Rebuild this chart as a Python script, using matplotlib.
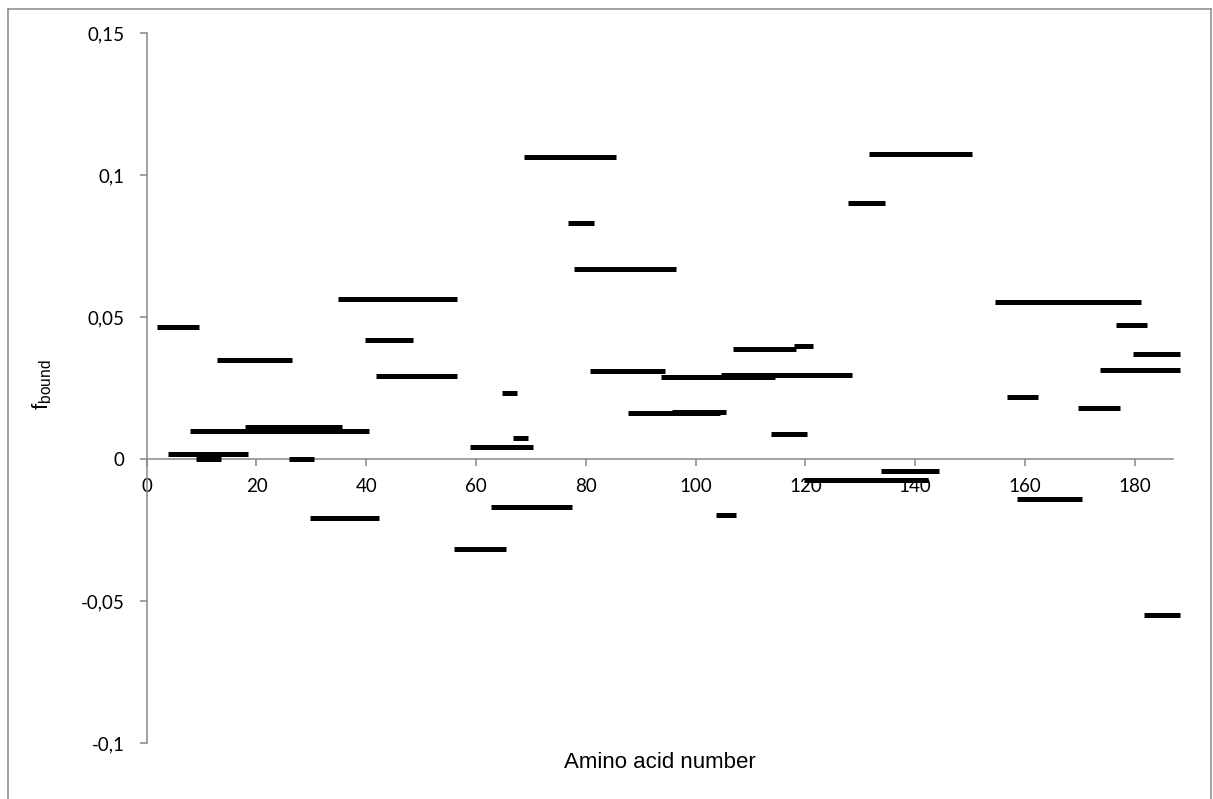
import matplotlib
matplotlib.use("Agg")
import matplotlib.pyplot as plt
from matplotlib.lines import Line2D

# Segment data: start / end along sequence (visual extent) and f_bound value
seg_start = [1.8, 12.8, 34.8, 39.8, 41.8, 68.8, 76.8, 77.8, 106.8, 117.9,
             80.8, 93.7, 104.7, 131.6, 127.7, 154.6, 176.6, 179.6, 173.6, 7.9,
             17.9, 3.9, 8.9, 25.9, 29.8, 55.9, 58.8, 64.8, 66.8, 87.7,
             95.7, 113.7, 62.8, 103.7, 119.7, 133.7, 156.7, 169.6, 158.6, 181.6]
seg_end = [9.6, 26.5, 56.5, 48.5, 56.5, 85.5, 81.4, 96.4, 118.3, 121.4,
           94.4, 114.4, 128.4, 150.3, 134.4, 181.2, 182.3, 188.3, 188.3, 40.5,
           35.5, 18.5, 13.5, 30.5, 42.4, 65.5, 70.4, 67.5, 69.5, 104.4,
           105.5, 120.3, 77.4, 107.4, 142.3, 144.4, 162.3, 177.3, 170.3, 188.3]
seg_value = [0.0465, 0.0348, 0.0562, 0.0419, 0.0292, 0.1062, 0.0830, 0.0670, 0.0389, 0.0397,
             0.0311, 0.0287, 0.0297, 0.1074, 0.0901, 0.0552, 0.0473, 0.0371, 0.0313, 0.00975,
             0.0112, 0.0019, 0.0, 0.0, -0.0209, -0.0316, 0.0042, 0.0232, 0.0074, 0.0161,
             0.0167, 0.0089, -0.0170, -0.0198, -0.0073, -0.0043, 0.0220, 0.0181, -0.0142, -0.0551]

x_ticks = [0, 20, 40, 60, 80, 100, 120, 140, 160, 180]
y_ticks = [-0.1, -0.05, 0, 0.05, 0.1, 0.15]
y_tick_labels = ["-0,1", "-0,05", "0", "0,05", "0,1", "0,15"]

W, H = 1213, 799
fig = plt.figure(figsize=(W / 100, H / 100), dpi=100)
ax = fig.add_axes([146.7 / W, (H - 743) / H, (1173.3 - 146.7) / W, 710 / H])

gray = "#878787"
ax.set_xlim(0, 187)
ax.set_ylim(-0.1, 0.15)

ax.hlines(seg_value, seg_start, seg_end, colors="black", linewidth=3.6,
          capstyle="butt", zorder=3, clip_on=False)

for s in ["top", "right"]:
    ax.spines[s].set_visible(False)
ax.spines["bottom"].set_position(("data", 0))
ax.spines["bottom"].set_color(gray)
ax.spines["left"].set_color(gray)
ax.spines["bottom"].set_linewidth(1.1)
ax.spines["left"].set_linewidth(1.1)
ax.spines["bottom"].set_zorder(1)

ax.set_xticks(x_ticks)
ax.set_xticklabels([str(v) for v in x_ticks])
ax.set_yticks(y_ticks)
ax.set_yticklabels(y_tick_labels)
ax.tick_params(axis="both", colors=gray, labelcolor="black", width=1.1, length=5,
               direction="out", labelsize=13.5)
ax.tick_params(axis="x", pad=9)
ax.tick_params(axis="y", pad=11)
for lab in ax.get_xticklabels() + ax.get_yticklabels():
    lab.set_fontfamily("Lato")

fig.text(660 / W, 1 - 762 / H, "Amino acid number", ha="center", va="center",
         fontsize=16, family="Liberation Sans")
fig.text(42 / W, 1 - 385 / H, r"f$_{\mathregular{bound}}$", ha="center", va="center",
         rotation=90, fontsize=16, family="Liberation Sans")

# outer chart border
bx0, by0, bx1 = 8 / W, 1 - 9 / H, 1211 / W
for xs, ys in [([bx0, bx0], [0, by0]), ([bx0, bx1], [by0, by0]), ([bx1, bx1], [by0, 0])]:
    fig.add_artist(Line2D(xs, ys, color=gray, linewidth=1.1, transform=fig.transFigure))

fig.savefig("out.png", dpi=100)
